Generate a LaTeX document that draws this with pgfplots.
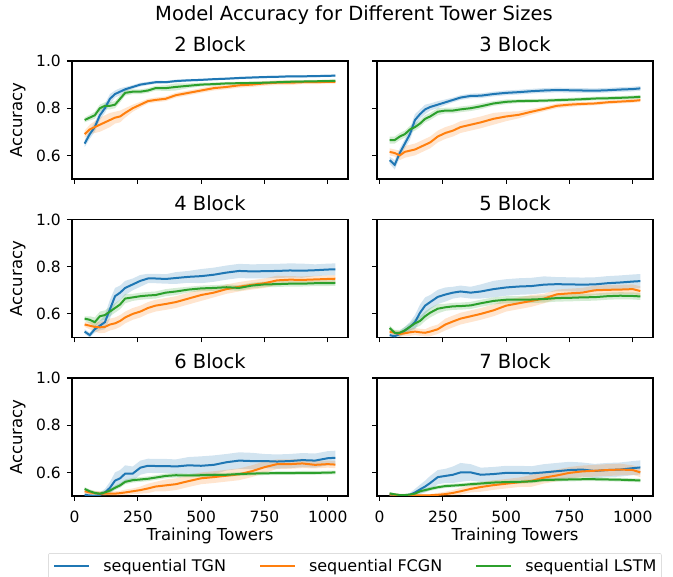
\documentclass[border=0pt]{standalone}
\usepackage{fontspec}
\setmainfont{DejaVu Sans}
\usepackage{pgfplots}
\usepackage{pgfplotstable}
\pgfplotsset{compat=1.18}
\usepgfplotslibrary{fillbetween}

\definecolor{cTGN}{HTML}{1F77B4}
\definecolor{cFCGN}{HTML}{FF7F0E}
\definecolor{cLSTM}{HTML}{2CA02C}

% x, mean and half-width of the band for each model
\pgfplotstableread{
x    T     Te     F     Fe     L     Le
40   0.65  0.015  0.69  0.015  0.75  0.010
60   0.69  0.020  0.71  0.020  0.76  0.012
80   0.72  0.020  0.72  0.025  0.77  0.015
100  0.77  0.020  0.73  0.030  0.80  0.015
120  0.80  0.020  0.74  0.030  0.81  0.015
140  0.84  0.020  0.75  0.030  0.81  0.015
160  0.86  0.015  0.76  0.025  0.815 0.015
180  0.87  0.015  0.765 0.025  0.84  0.015
200  0.88  0.010  0.78  0.020  0.865 0.012
230  0.89  0.008  0.80  0.015  0.87  0.010
260  0.90  0.008  0.815 0.012  0.87  0.010
290  0.905 0.007  0.83  0.010  0.875 0.010
320  0.91  0.007  0.835 0.010  0.885 0.010
360  0.91  0.006  0.84  0.010  0.885 0.012
400  0.915 0.006  0.855 0.010  0.89  0.015
450  0.918 0.006  0.865 0.010  0.895 0.010
500  0.92  0.005  0.875 0.010  0.90  0.008
550  0.923 0.005  0.885 0.010  0.902 0.007
600  0.925 0.005  0.89  0.010  0.905 0.006
650  0.928 0.005  0.897 0.010  0.906 0.006
700  0.93  0.005  0.90  0.010  0.907 0.006
750  0.932 0.005  0.905 0.010  0.908 0.006
800  0.933 0.005  0.908 0.010  0.91  0.006
850  0.935 0.005  0.908 0.010  0.912 0.006
900  0.935 0.005  0.91  0.008  0.913 0.006
950  0.936 0.005  0.91  0.008  0.914 0.006
1000 0.937 0.005  0.912 0.008  0.915 0.006
1030 0.938 0.005  0.912 0.008  0.916 0.006
}\tabB

\pgfplotstableread{
x    T     Te     F     Fe     L     Le
40   0.58  0.015  0.615 0.015  0.665 0.015
60   0.56  0.020  0.61  0.015  0.665 0.015
80   0.61  0.020  0.60  0.020  0.68  0.015
100  0.65  0.020  0.615 0.025  0.69  0.015
120  0.69  0.025  0.62  0.025  0.71  0.015
140  0.75  0.025  0.625 0.025  0.72  0.015
160  0.775 0.020  0.635 0.025  0.735 0.015
180  0.795 0.020  0.645 0.025  0.755 0.015
200  0.805 0.015  0.655 0.025  0.765 0.015
230  0.815 0.015  0.68  0.025  0.785 0.015
260  0.825 0.012  0.695 0.025  0.79  0.012
290  0.835 0.010  0.705 0.025  0.79  0.012
320  0.845 0.010  0.72  0.025  0.795 0.012
360  0.852 0.010  0.73  0.025  0.80  0.012
400  0.853 0.010  0.74  0.025  0.808 0.012
450  0.86  0.010  0.755 0.025  0.82  0.010
500  0.865 0.010  0.765 0.020  0.827 0.010
550  0.868 0.010  0.772 0.015  0.83  0.008
600  0.872 0.010  0.785 0.012  0.831 0.008
650  0.875 0.010  0.797 0.010  0.832 0.008
700  0.877 0.010  0.81  0.010  0.834 0.008
750  0.876 0.010  0.815 0.010  0.836 0.008
800  0.875 0.010  0.818 0.008  0.838 0.008
850  0.874 0.010  0.82  0.008  0.841 0.008
900  0.876 0.010  0.825 0.008  0.842 0.008
950  0.879 0.010  0.828 0.008  0.844 0.008
1000 0.881 0.010  0.831 0.008  0.846 0.008
1030 0.884 0.010  0.834 0.008  0.848 0.008
}\tabC

\pgfplotstableread{
x    T     Te     F     Fe     L     Le
40   0.525 0.010  0.555 0.010  0.58  0.010
60   0.51  0.010  0.55  0.015  0.575 0.015
80   0.535 0.015  0.545 0.020  0.565 0.020
100  0.55  0.020  0.543 0.025  0.59  0.020
120  0.565 0.030  0.545 0.025  0.595 0.020
140  0.62  0.040  0.555 0.025  0.61  0.020
160  0.675 0.035  0.56  0.025  0.625 0.020
180  0.69  0.030  0.57  0.025  0.64  0.020
200  0.71  0.030  0.585 0.025  0.665 0.020
230  0.725 0.025  0.60  0.025  0.67  0.015
260  0.74  0.025  0.61  0.025  0.675 0.015
290  0.75  0.020  0.625 0.025  0.678 0.015
320  0.75  0.020  0.635 0.025  0.68  0.015
360  0.748 0.020  0.642 0.025  0.69  0.015
400  0.752 0.025  0.65  0.025  0.695 0.015
450  0.757 0.025  0.665 0.025  0.703 0.012
500  0.76  0.030  0.68  0.025  0.708 0.012
550  0.766 0.030  0.69  0.020  0.71  0.012
600  0.775 0.030  0.705 0.020  0.713 0.012
650  0.782 0.030  0.715 0.020  0.71  0.012
700  0.78  0.030  0.723 0.020  0.72  0.012
750  0.781 0.030  0.73  0.020  0.725 0.012
800  0.782 0.030  0.742 0.020  0.726 0.012
850  0.784 0.030  0.745 0.015  0.728 0.012
900  0.783 0.030  0.744 0.015  0.728 0.012
950  0.785 0.025  0.746 0.015  0.73  0.012
1000 0.788 0.025  0.748 0.015  0.73  0.012
1030 0.789 0.025  0.749 0.015  0.731 0.012
}\tabD

\pgfplotstableread{
x    T     Te     F     Fe     L     Le
40   0.51  0.010  0.525 0.010  0.54  0.010
60   0.505 0.010  0.52  0.010  0.52  0.012
80   0.515 0.012  0.515 0.012  0.52  0.012
100  0.53  0.015  0.518 0.012  0.53  0.015
120  0.545 0.020  0.522 0.015  0.545 0.015
140  0.565 0.030  0.525 0.015  0.56  0.020
160  0.605 0.035  0.522 0.015  0.57  0.020
180  0.635 0.035  0.52  0.015  0.59  0.020
200  0.65  0.030  0.525 0.020  0.605 0.020
230  0.672 0.030  0.535 0.020  0.622 0.020
260  0.682 0.030  0.555 0.025  0.628 0.015
290  0.69  0.025  0.568 0.025  0.632 0.015
320  0.695 0.025  0.58  0.025  0.633 0.015
360  0.69  0.025  0.59  0.025  0.636 0.015
400  0.695 0.030  0.60  0.025  0.645 0.015
450  0.705 0.035  0.615 0.025  0.655 0.015
500  0.712 0.035  0.635 0.025  0.66  0.015
550  0.716 0.035  0.645 0.025  0.66  0.015
600  0.718 0.035  0.655 0.025  0.661 0.015
650  0.724 0.035  0.665 0.020  0.663 0.015
700  0.726 0.030  0.683 0.020  0.667 0.015
750  0.725 0.030  0.687 0.020  0.668 0.015
800  0.724 0.030  0.69  0.020  0.67  0.015
850  0.725 0.030  0.70  0.020  0.671 0.015
900  0.73  0.030  0.702 0.020  0.675 0.015
950  0.733 0.030  0.703 0.020  0.677 0.015
1000 0.737 0.030  0.705 0.020  0.676 0.015
1030 0.739 0.030  0.697 0.020  0.674 0.015
}\tabE

\pgfplotstableread{
x    T     Te     F     Fe     L     Le
40   0.505 0.008  0.52  0.010  0.53  0.008
60   0.502 0.008  0.515 0.010  0.52  0.008
80   0.50  0.008  0.512 0.010  0.513 0.008
100  0.505 0.010  0.51  0.010  0.51  0.008
120  0.515 0.015  0.51  0.010  0.515 0.008
140  0.535 0.025  0.51  0.010  0.523 0.008
160  0.565 0.035  0.51  0.010  0.535 0.010
180  0.575 0.035  0.512 0.010  0.545 0.010
200  0.595 0.035  0.515 0.012  0.56  0.010
230  0.595 0.030  0.52  0.012  0.567 0.010
260  0.62  0.030  0.525 0.015  0.57  0.010
290  0.628 0.030  0.532 0.020  0.573 0.010
320  0.627 0.030  0.54  0.020  0.578 0.010
360  0.627 0.030  0.545 0.025  0.585 0.010
400  0.625 0.030  0.55  0.025  0.588 0.010
450  0.63  0.035  0.563 0.025  0.587 0.008
500  0.628 0.040  0.575 0.025  0.588 0.008
550  0.632 0.040  0.58  0.025  0.589 0.008
600  0.643 0.035  0.586 0.025  0.59  0.008
650  0.65  0.035  0.592 0.025  0.593 0.008
700  0.648 0.035  0.605 0.025  0.595 0.008
750  0.648 0.030  0.622 0.025  0.596 0.008
800  0.646 0.030  0.635 0.020  0.597 0.008
850  0.648 0.030  0.635 0.020  0.597 0.008
900  0.652 0.030  0.638 0.020  0.598 0.008
950  0.65  0.030  0.632 0.015  0.598 0.008
1000 0.66  0.030  0.635 0.015  0.599 0.008
1030 0.662 0.030  0.633 0.015  0.60  0.008
}\tabF

\pgfplotstableread{
x    T     Te     F     Fe     L     Le
40   0.505 0.005  0.506 0.005  0.511 0.005
60   0.503 0.005  0.505 0.005  0.507 0.005
80   0.502 0.005  0.504 0.005  0.504 0.005
100  0.502 0.005  0.504 0.005  0.504 0.005
120  0.505 0.008  0.503 0.005  0.506 0.005
140  0.515 0.015  0.503 0.005  0.51  0.005
160  0.528 0.020  0.503 0.005  0.52  0.008
180  0.54  0.025  0.503 0.005  0.525 0.008
200  0.555 0.030  0.503 0.005  0.53  0.008
230  0.58  0.030  0.505 0.008  0.537 0.008
260  0.585 0.030  0.508 0.010  0.542 0.008
290  0.59  0.035  0.513 0.012  0.544 0.008
320  0.60  0.040  0.52  0.015  0.546 0.008
360  0.60  0.035  0.53  0.015  0.55  0.008
400  0.59  0.030  0.538 0.020  0.553 0.008
450  0.593 0.030  0.546 0.020  0.557 0.008
500  0.598 0.030  0.552 0.020  0.559 0.008
550  0.598 0.030  0.558 0.020  0.56  0.008
600  0.596 0.030  0.564 0.025  0.562 0.008
650  0.60  0.035  0.578 0.025  0.568 0.008
700  0.605 0.035  0.587 0.025  0.569 0.008
750  0.61  0.035  0.598 0.025  0.57  0.008
800  0.612 0.030  0.604 0.025  0.571 0.008
850  0.606 0.030  0.607 0.025  0.571 0.008
900  0.61  0.030  0.61  0.025  0.57  0.008
950  0.612 0.030  0.612 0.025  0.569 0.008
1000 0.618 0.030  0.61  0.020  0.567 0.008
1030 0.621 0.030  0.60  0.020  0.566 0.008
}\tabG

% one model: shaded band, then the mean line
\newcommand{\model}[4]{%
  \addplot[name path=up#2, draw=none, forget plot] table[x=x, y expr=\thisrow{#2}+\thisrow{#3}] {#1};
  \addplot[name path=lo#2, draw=none, forget plot] table[x=x, y expr=\thisrow{#2}-\thisrow{#3}] {#1};
  \addplot[fill=#4, fill opacity=0.2, draw=none, forget plot] fill between[of=up#2 and lo#2];
  \addplot[#4, line width=2pt] table[x=x, y=#2] {#1};
}
\newcommand{\panel}[1]{\model{#1}{T}{Te}{cTGN}\model{#1}{F}{Fe}{cFCGN}\model{#1}{L}{Le}{cLSTM}}

\pgfplotsset{
  panel/.style={
    scale only axis, width=276pt, height=118pt,
    xmin=-10, xmax=1080, ymin=0.5, ymax=1.0,
    xtick={0,250,500,750,1000}, ytick={0.6,0.8,1.0},
    tick align=outside, tick pos=left,
    major tick length=5pt,
    every tick/.style={black, line width=1.1pt},
    axis line style={line width=1.1pt},
    /pgf/number format/assume math mode=true,
    /pgf/number format/1000 sep={},
    yticklabel style={/pgf/number format/fixed, /pgf/number format/fixed zerofill, /pgf/number format/precision=1},
    xticklabel style={anchor=base, inner sep=0pt, yshift=-22pt},
    yticklabel style={anchor=east, inner sep=0pt, xshift=-6pt},
    tick label style={font=\fontsize{15.5}{18}\selectfont},
    label style={font=\fontsize{16.5}{19}\selectfont},
    ylabel style={at={(axis description cs:-0.196,0.5)}, anchor=center},
    xlabel style={at={(axis description cs:0.5,-0.27)}, anchor=north, inner sep=0pt},
    title style={font=\fontsize{19.5}{22}\selectfont, at={(0.5,1)}, anchor=south, inner sep=0pt, yshift=3pt},
  },
  leftcol/.style={panel, ylabel={Accuracy}},
  rightcol/.style={panel, yticklabels={}},
}

\begin{document}
\begin{tikzpicture}
\node[font=\fontsize{19.5}{22}\selectfont, anchor=base] at (354pt,-21pt) {Model Accuracy for Different Tower Sizes};

\begin{axis}[leftcol, at={(72pt,-61pt)}, anchor=north west, title={2 Block}, xticklabels={}]
\panel{\tabB}
\end{axis}
\begin{axis}[rightcol, at={(377pt,-61pt)}, anchor=north west, title={3 Block}, xticklabels={}]
\panel{\tabC}
\end{axis}

\begin{axis}[leftcol, at={(72pt,-219.5pt)}, anchor=north west, title={4 Block}, xticklabels={}]
\panel{\tabD}
\end{axis}
\begin{axis}[rightcol, at={(377pt,-219.5pt)}, anchor=north west, title={5 Block}, xticklabels={}]
\panel{\tabE}
\end{axis}

\begin{axis}[leftcol, at={(72pt,-378pt)}, anchor=north west, title={6 Block}, xlabel={Training Towers},
  legend columns=3,
  legend image code/.code={\draw[#1] (0pt,0pt) -- (35pt,0pt);},
  legend style={at={(1.025,-0.484)}, anchor=north, draw=black!20, rounded corners=2pt,
    inner xsep=5pt, inner ysep=6pt, font=\fontsize{16}{19}\selectfont,
    nodes={inner sep=0pt},
    /tikz/every odd column/.append style={column sep=13pt},
    /tikz/every even column/.append style={column sep=33pt}}]
\panel{\tabF}
\legend{sequential TGN, sequential FCGN, sequential LSTM}
\end{axis}
\begin{axis}[rightcol, at={(377pt,-378pt)}, anchor=north west, title={7 Block}, xlabel={Training Towers}]
\panel{\tabG}
\end{axis}

\pgfresetboundingbox
\path[use as bounding box] (0pt,0pt) rectangle (673pt,-577pt);
\end{tikzpicture}
\end{document}
